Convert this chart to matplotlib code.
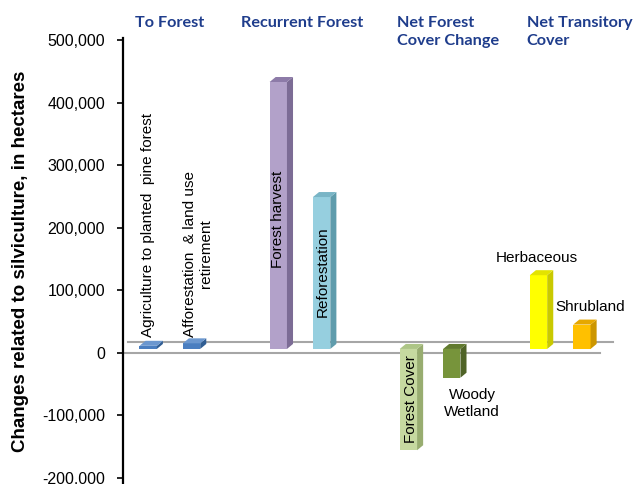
import matplotlib.pyplot as plt
from matplotlib.patches import Polygon

# slot index of each bar (gaps between the groups)
slots = [0, 1, 3, 4, 6, 7, 9, 10]
names = ['Agriculture to planted  pine forest', 'Afforestation  & land use\nretirement',
         'Forest harvest', 'Reforestation', 'Forest Cover', 'Woody\nWetland',
         'Herbaceous', 'Shrubland']
values = [5000, 9000, 427000, 243000, -162000, -46000, 118000, 39000]
front_colors = ['#4a7ec0', '#4a7ec0', '#b2a1c9', '#96cfdf', '#c6d9a0', '#77943b', '#ffff00', '#ffc000']
side_colors = ['#2f5d93', '#2f5d93', '#7c6c95', '#5f9cac', '#98ad70', '#4f6327', '#c9c900', '#cc9600']
top_colors = ['#6b97cf', '#6b97cf', '#8d7ba8', '#79b5c6', '#adc586', '#617a2e', '#e3e300', '#e6a800']

groups = ['To Forest', 'Recurrent Forest', 'Net Forest\nCover Change', 'Net Transitory\nCover']
group_x = [-0.3, 2.14, 5.74, 8.73]

yticks = [-200000, -100000, 0, 100000, 200000, 300000, 400000, 500000]

fig = plt.figure(figsize=(6.34, 4.84), dpi=100)
ax = fig.add_axes([0.194, 0.0, 0.784, 0.921])

base = 6000      # bars stand a little behind the front edge of the floor
w = 0.4
dx, dy = 0.14, 8000

# floor edges
ax.plot([-0.58, 10.41], [0, 0], color='#a6a6a6', lw=1.5, zorder=1)
ax.plot([-0.46, 10.71], [17000, 17000], color='#a6a6a6', lw=1.5, zorder=1)

ax.bar(slots, values, width=w, bottom=base, color=front_colors, zorder=3)
for x, v, sc, tc in zip(slots, values, side_colors, top_colors):
    lo = min(base, base + v)
    hi = max(base, base + v)
    side = [(x + w/2, lo), (x + w/2 + dx, lo + dy), (x + w/2 + dx, hi + dy), (x + w/2, hi)]
    top = [(x - w/2, hi), (x + w/2, hi), (x + w/2 + dx, hi + dy), (x - w/2 + dx, hi + dy)]
    ax.add_patch(Polygon(side, closed=True, facecolor=sc, edgecolor='none', zorder=3))
    ax.add_patch(Polygon(top, closed=True, facecolor=tc, edgecolor='none', zorder=3))

lab = dict(fontsize=11, family='Liberation Sans', color='black', zorder=4)
ax.text(0, 25000, names[0], rotation=90, ha='center', va='bottom', **lab)
ax.text(1.15, 25000, names[1], rotation=90, ha='center', va='bottom', multialignment='center', **lab)
ax.text(3.0, 135000, names[2], rotation=90, ha='center', va='bottom', **lab)
ax.text(4.03, 57000, names[3], rotation=90, ha='center', va='bottom', **lab)
ax.text(6.06, -145000, names[4], rotation=90, ha='center', va='bottom', **lab)
ax.text(7.47, -81000, names[5], ha='center', va='center', multialignment='center', linespacing=1.3, **lab)
ax.text(8.96, 151500, names[6], ha='center', va='center', **lab)
ax.text(10.18, 73000, names[7], ha='center', va='center', **lab)

for gx, g in zip(group_x, groups):
    ax.text(gx, 1.049, g, transform=ax.get_xaxis_transform(), ha='left', va='top',
            fontsize=11.7, family='Lato', fontweight='bold', color='#1f3d8c',
            linespacing=1.35, clip_on=False)

ax.set_xlim(-0.58, 10.88)
ax.set_ylim(-210000, 503000)
ax.set_yticks(yticks)
ax.set_yticklabels(['{:,}'.format(t) for t in yticks], family='Liberation Sans', fontsize=11.5)
ax.tick_params(axis='y', direction='out', length=4, width=1.2, pad=9)
ax.set_xticks([])
for s in ['top', 'right', 'bottom']:
    ax.spines[s].set_visible(False)
ax.spines['left'].set_linewidth(1.6)

ax.set_ylabel('Changes related to silviculture, in hectares', family='Liberation Sans',
              fontsize=13.5, fontweight='bold')
ax.yaxis.set_label_coords(-0.19, 0.5)

plt.savefig('out.png', dpi=100)
